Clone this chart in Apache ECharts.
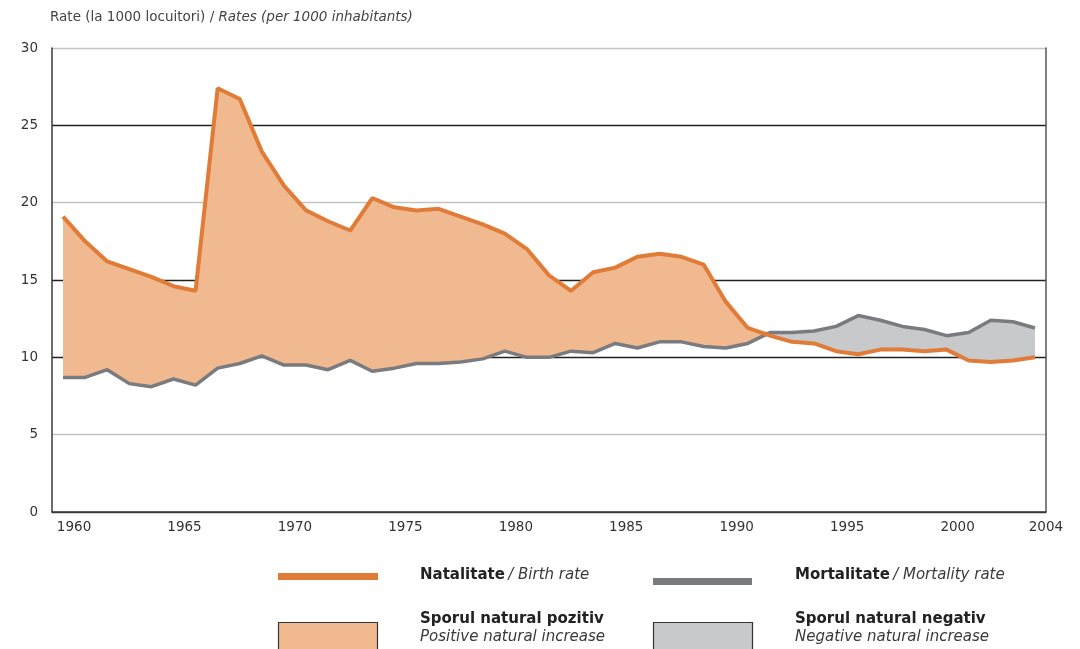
<!DOCTYPE html>
<html>
<head>
<meta charset="utf-8">
<script src="https://cdn.jsdelivr.net/npm/echarts@6/dist/echarts.min.js"></script>
<style>
  html, body { margin: 0; padding: 0; background: #fff; }
  #main { width: 1080px; height: 649px; }
</style>
</head>
<body>
<div id="main"></div>
<script>
  // Data (per 1000 inhabitants)
  var years = [];
  for (var y = 1960; y <= 2004; y++) { years.push(String(y)); }

  var birthRate = [
    19.1, 17.5, 16.2, 15.7, 15.2, 14.6, 14.3, 27.4, 26.7, 23.3,
    21.1, 19.5, 18.8, 18.2, 20.3, 19.7, 19.5, 19.6, 19.1, 18.6,
    18.0, 17.0, 15.3, 14.3, 15.5, 15.8, 16.5, 16.7, 16.5, 16.0,
    13.6, 11.9, 11.4, 11.0, 10.9, 10.4, 10.2, 10.5, 10.5, 10.4,
    10.5, 9.8, 9.7, 9.8, 10.0
  ];

  var mortalityRate = [
    8.7, 8.7, 9.2, 8.3, 8.1, 8.6, 8.2, 9.3, 9.6, 10.1,
    9.5, 9.5, 9.2, 9.8, 9.1, 9.3, 9.6, 9.6, 9.7, 9.9,
    10.4, 10.0, 10.0, 10.4, 10.3, 10.9, 10.6, 11.0, 11.0, 10.7,
    10.6, 10.9, 11.6, 11.6, 11.7, 12.0, 12.7, 12.4, 12.0, 11.8,
    11.4, 11.6, 12.4, 12.3, 11.9
  ];

  var yTicks = [0, 5, 10, 15, 20, 25, 30];
  var labelYears = ['1960', '1965', '1970', '1975', '1980', '1985', '1990', '1995', '2000', '2004'];

  // Colours
  var ORANGE = '#E07C38';
  var PEACH = '#F0B990';
  var GREY_LINE = '#7A7B7E';
  var GREY_FILL = '#C8C9CB';
  var FONT = 'DejaVu Sans';

  var positive = birthRate.map(function (b, i) { return Math.max(b - mortalityRate[i], 0); });
  var negative = birthRate.map(function (b, i) { return Math.max(mortalityRate[i] - b, 0); });

  var myChart = echarts.init(document.getElementById('main'));

  // legend text styles
  var legendRich = {
    b: { fontFamily: FONT, fontSize: 15, fontWeight: 'bold', fill: '#222', lineHeight: 18 },
    i: { fontFamily: FONT, fontSize: 15, fontStyle: 'italic', fill: '#3a3a3a', lineHeight: 18 }
  };

  var option = {
    animation: false,
    textStyle: { fontFamily: FONT },
    grid: { left: 52, right: 34, top: 48, bottom: 137 },
    xAxis: {
      type: 'category',
      data: years,
      boundaryGap: true,
      axisLine: { lineStyle: { color: '#3a3a3a', width: 1.5 } },
      axisTick: { show: false },
      axisLabel: {
        interval: function (idx, val) { return labelYears.indexOf(val) >= 0; },
        color: '#333',
        fontFamily: FONT,
        fontSize: 13.5,
        margin: 8,
        padding: [0, 0, 0, 22]
      },
      splitLine: { show: false }
    },
    yAxis: [
      {
        type: 'value',
        min: yTicks[0],
        max: yTicks[yTicks.length - 1],
        interval: 5,
        axisLine: { show: true, lineStyle: { color: '#3a3a3a', width: 1.5 } },
        axisTick: { show: false },
        axisLabel: { color: '#333', fontFamily: FONT, fontSize: 13.5, margin: 14 },
        splitLine: {
          show: true,
          lineStyle: {
            color: ['#3a3a3a', '#c4c4c4', '#222', '#222', '#c4c4c4', '#222', '#c4c4c4'],
            width: 1.3
          }
        }
      },
      {
        type: 'value',
        position: 'right',
        min: 0,
        max: 30,
        interval: 5,
        axisLine: { show: true, lineStyle: { color: '#555', width: 1.5 } },
        axisTick: { show: false },
        axisLabel: { show: false },
        splitLine: { show: false }
      }
    ],
    series: [
      {
        name: 'posBase', type: 'line', stack: 'pos', data: mortalityRate,
        symbol: 'none', lineStyle: { width: 0 }, silent: true
      },
      {
        name: 'Sporul natural pozitiv', type: 'line', stack: 'pos', data: positive,
        symbol: 'none', lineStyle: { width: 0 }, areaStyle: { color: PEACH, opacity: 1 }
      },
      {
        name: 'negBase', type: 'line', stack: 'neg', data: birthRate,
        symbol: 'none', lineStyle: { width: 0 }, silent: true
      },
      {
        name: 'Sporul natural negativ', type: 'line', stack: 'neg', data: negative,
        symbol: 'none', lineStyle: { width: 0 }, areaStyle: { color: GREY_FILL, opacity: 1 }
      },
      {
        name: 'Mortalitate', type: 'line', data: mortalityRate,
        symbol: 'none', lineStyle: { color: GREY_LINE, width: 3.5 }, z: 5
      },
      {
        name: 'Natalitate', type: 'line', data: birthRate,
        symbol: 'none', lineStyle: { color: ORANGE, width: 4 }, z: 6
      }
    ],
    graphic: [
      {
        type: 'text', left: 50, top: 10,
        style: {
          text: '{r|Rate (la 1000 locuitori) / }{i|Rates (per 1000 inhabitants)}',
          rich: {
            r: { fontFamily: FONT, fontSize: 13.5, fill: '#444' },
            i: { fontFamily: FONT, fontSize: 13.5, fill: '#444', fontStyle: 'italic' }
          }
        }
      },
      // legend row 1
      { type: 'rect', shape: { x: 278, y: 573, width: 100, height: 7 }, style: { fill: ORANGE } },
      {
        type: 'text', left: 420, top: 568,
        style: { text: '{b|Natalitate} {i|/ Birth rate}', rich: legendRich }
      },
      { type: 'rect', shape: { x: 653, y: 578, width: 99, height: 7 }, style: { fill: GREY_LINE } },
      {
        type: 'text', left: 795, top: 568,
        style: { text: '{b|Mortalitate} {i|/ Mortality rate}', rich: legendRich }
      },
      // legend row 2
      {
        type: 'rect', shape: { x: 278.5, y: 622.5, width: 99, height: 30 },
        style: { fill: PEACH, stroke: '#333', lineWidth: 1.2 }
      },
      {
        type: 'text', left: 420, top: 612,
        style: { text: '{b|Sporul natural pozitiv}\n{i|Positive natural increase}', rich: legendRich }
      },
      {
        type: 'rect', shape: { x: 653.5, y: 622.5, width: 99, height: 30 },
        style: { fill: GREY_FILL, stroke: '#333', lineWidth: 1.2 }
      },
      {
        type: 'text', left: 795, top: 612,
        style: { text: '{b|Sporul natural negativ}\n{i|Negative natural increase}', rich: legendRich }
      }
    ]
  };

  myChart.setOption(option);
</script>
</body>
</html>
